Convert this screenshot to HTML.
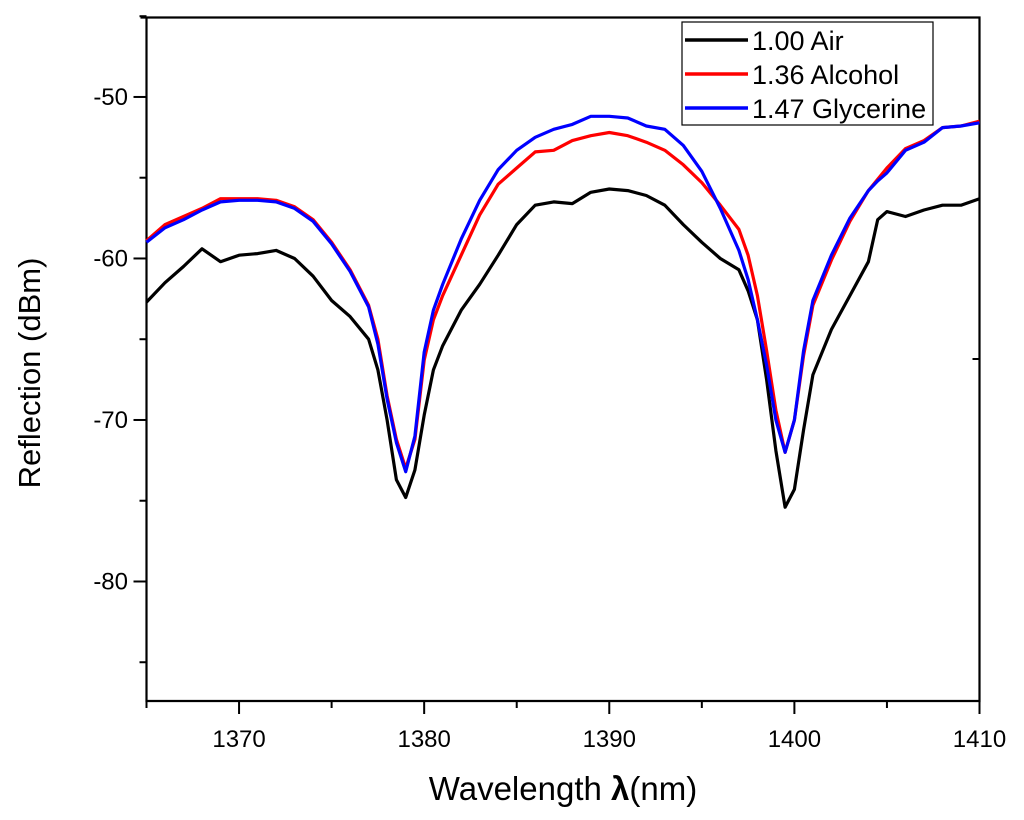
<!DOCTYPE html>
<html><head><meta charset="utf-8"><style>
body{margin:0;background:#fff;}
svg{display:block;font-family:"Liberation Sans",Arial,sans-serif;}
</style></head><body>
<svg id="chart" width="1024" height="820">
<g id="axes"></g>
<g id="series"></g>
<g>
<rect x="682" y="22" width="251" height="103" fill="#fff" stroke="#000" stroke-width="1.2"/>
<line x1="685" y1="40" x2="748" y2="40" stroke="#000" stroke-width="3.5"/>
<text x="752" y="50" font-size="27">1.00 Air</text>
<line x1="685" y1="74" x2="748" y2="74" stroke="#f00" stroke-width="3.5"/>
<text x="752" y="84" font-size="27">1.36 Alcohol</text>
<line x1="685" y1="108" x2="748" y2="108" stroke="#00f" stroke-width="3.5"/>
<text x="752" y="118" font-size="27">1.47 Glycerine</text>
</g>
<text x="563" y="800" font-size="33" text-anchor="middle">Wavelength <tspan font-weight="bold">λ</tspan>(nm)</text>
<text transform="translate(40,373) rotate(-90)" font-size="31" text-anchor="middle">Reflection (dBm)</text>
</svg>
<script>
const wavelengths=[1365,1366,1367,1368,1369,1370,1371,1372,1373,1374,1375,1376,1377,1377.5,1378,1378.5,1379,1379.5,1380,1380.5,1381,1382,1383,1384,1385,1386,1387,1388,1389,1390,1391,1392,1393,1394,1395,1396,1397,1397.5,1398,1398.5,1399,1399.5,1400,1400.5,1401,1402,1403,1404,1404.5,1405,1406,1407,1408,1409,1410];
const airValues=[-62.7,-61.5,-60.5,-59.4,-60.2,-59.8,-59.7,-59.5,-60.0,-61.1,-62.6,-63.6,-65.0,-66.9,-70.0,-73.7,-74.8,-73.1,-69.7,-66.9,-65.4,-63.2,-61.6,-59.8,-57.9,-56.7,-56.5,-56.6,-55.9,-55.7,-55.8,-56.1,-56.7,-57.9,-59.0,-60.0,-60.7,-62.0,-63.8,-67.5,-71.9,-75.4,-74.3,-70.6,-67.2,-64.4,-62.3,-60.2,-57.6,-57.1,-57.4,-57.0,-56.7,-56.7,-56.3];
const alcoholValues=[-58.9,-57.9,-57.4,-56.9,-56.3,-56.3,-56.3,-56.4,-56.8,-57.6,-59.0,-60.7,-62.9,-65.0,-68.5,-71.2,-73.0,-71.2,-66.3,-63.8,-62.3,-59.8,-57.3,-55.4,-54.4,-53.4,-53.3,-52.7,-52.4,-52.2,-52.4,-52.8,-53.3,-54.2,-55.3,-56.7,-58.2,-59.8,-62.3,-65.7,-69.4,-72.0,-70.0,-66.0,-62.9,-60.1,-57.7,-55.8,-55.1,-54.4,-53.2,-52.7,-51.9,-51.8,-51.5];
const glycerineValues=[-59.0,-58.1,-57.6,-57.0,-56.5,-56.4,-56.4,-56.5,-56.9,-57.7,-59.1,-60.8,-63.0,-65.3,-68.7,-71.4,-73.2,-71.0,-65.8,-63.2,-61.6,-58.8,-56.4,-54.5,-53.3,-52.5,-52.0,-51.7,-51.2,-51.2,-51.3,-51.8,-52.0,-53.0,-54.6,-56.9,-59.5,-61.3,-63.8,-66.6,-70.0,-72.0,-70.0,-65.7,-62.6,-59.8,-57.5,-55.8,-55.2,-54.7,-53.3,-52.8,-51.9,-51.8,-51.6];
const xTicks=[1370,1380,1390,1400,1410];
const yTicks=[-50,-60,-70,-80];
const xMin=1365,xMax=1410,yMin=-87.4,yMax=-45.08;
const L=146.5,R=979.5,T=17.5,B=701;
const sx=v=>L+(v-xMin)/(xMax-xMin)*(R-L);
const sy=v=>B-(v-yMin)/(yMax-yMin)*(B-T);
const NS="http://www.w3.org/2000/svg";
function mk(tag,attrs,parent){const e=document.createElementNS(NS,tag);for(const k in attrs)e.setAttribute(k,attrs[k]);parent.appendChild(e);return e;}
const axes=document.getElementById('axes');
let fr=mk('path',{d:`M${L-6},${T}H${R}V${B}H${L}V${T}`,fill:'none',stroke:'#000','stroke-width':2.2},axes);


let rt=mk('line',{x1:R-7,y1:359,x2:R,y2:359,stroke:'#000','stroke-width':2},axes);


for(let v=1365;v<=1410;v+=5){const major=v%10===0;
 let t=mk('line',{x1:sx(v),y1:B,x2:sx(v),y2:B+(major?13:7),stroke:'#000','stroke-width':2},axes);
 
 }
xTicks.forEach(v=>{let t=mk('text',{x:sx(v),y:747,'font-size':24,'text-anchor':'middle'},axes);t.textContent=v;
 
 });
for(let v=-85;v<=-45;v+=5){const major=v%10===0;
 let t=mk('line',{x1:L-(major?13:7),y1:sy(v),x2:L,y2:sy(v),stroke:'#000','stroke-width':2},axes);
 
 }
yTicks.forEach(v=>{let t=mk('text',{x:128,y:sy(v)+8,'font-size':24,'text-anchor':'end'},axes);t.textContent=v;
 
 });
const ser=document.getElementById('series');
[[airValues,'#000','air-line'],[alcoholValues,'#f00','alcohol-line'],[glycerineValues,'#00f','glycerine-line']].forEach(([vals,c,n])=>{
 const d=vals.map((v,i)=>(i?'L':'M')+sx(wavelengths[i]).toFixed(1)+','+sy(v).toFixed(1)).join('');
 let p=mk('path',{d:d,fill:'none',stroke:c,'stroke-width':3.2,'stroke-linejoin':'round'},ser);
 
 
});
</script>
</body></html>
